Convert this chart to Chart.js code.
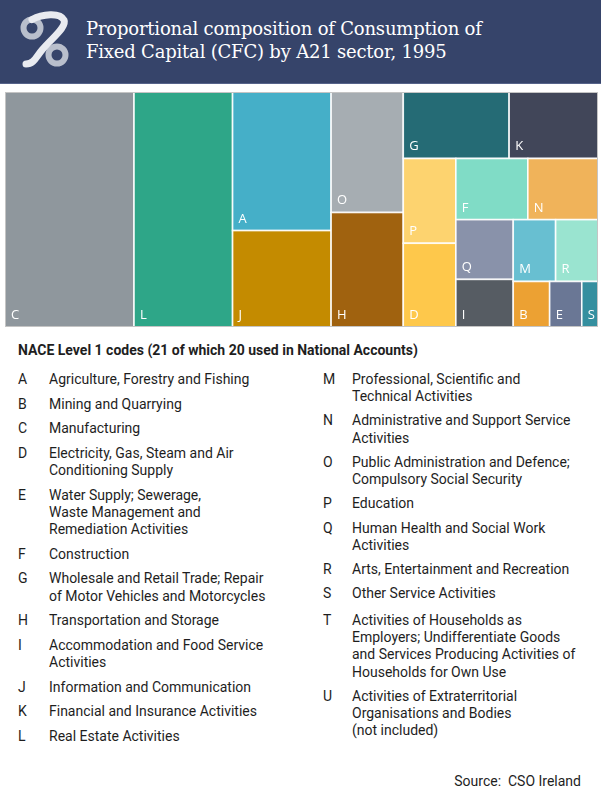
<!DOCTYPE html>
<html>
<head>
<meta charset="utf-8">
<script src="https://cdn.jsdelivr.net/npm/chart.js@4"></script>
<style>
  html, body { margin: 0; padding: 0; background: #fff; }
  body { width: 601px; height: 800px; position: relative; overflow: hidden; font-family: Roboto, "Noto Sans", sans-serif; color: #1e1e1e; }
  #header { position: absolute; left: 0; top: 0; width: 601px; height: 83px; background: #36446a; border-bottom: 1px solid #56638a; }
  #logo { position: absolute; left: 12px; top: 8px; }
  #title { position: absolute; left: 86px; top: 17px; color: #fff; font-family: "DejaVu Serif", serif; font-size: 18px; line-height: 23px; letter-spacing: -0.2px; }
  #wrap { position: absolute; left: 5px; top: 92px; width: 593px; height: 235px; }
  #heading { position: absolute; left: 18px; top: 341px; font-size: 14px; font-weight: 700; line-height: 18px; }
  .col { position: absolute; top: 371px; font-size: 14px; line-height: 17.3px; }
  .col .it { position: relative; margin-bottom: 7.3px; }
  .col .cd { position: absolute; left: 0; top: 0; }
  #col1 { left: 18px; width: 290px; }
  #col1 .tx { margin-left: 31px; }
  #col2 { left: 323px; width: 270px; }
  #col2 .it { margin-bottom: 6.9px; }
  #col2 .tx { margin-left: 29px; }
  #source { position: absolute; right: 20px; top: 772px; font-size: 14px; line-height: 18px; white-space: pre; }
</style>
</head>
<body>
<div id="header">
  <svg id="logo" width="64" height="64" viewBox="0 0 64 64">
    <circle cx="20" cy="20" r="8.5" fill="none" stroke="#b9bfcc" stroke-width="6"/>
    <circle cx="45" cy="47" r="8.5" fill="none" stroke="#b9bfcc" stroke-width="6"/>
    <path d="M20 11.5 C30 6 48 4 52 12 C55 19 40 30 30 42 C24 49 22 56 14 56" fill="none" stroke="#e9ebf0" stroke-width="7" stroke-linecap="round"/>
  </svg>
  <div id="title">Proportional composition of Consumption of<br>Fixed Capital (CFC) by A21 sector, 1995</div>
</div>

<div id="wrap"><canvas id="tree" width="593" height="235"></canvas></div>

<div id="heading">NACE Level 1 codes (21 of which 20 used in National Accounts)</div>
<div class="col" id="col1"></div>
<div class="col" id="col2"></div>
<div id="source">Source:  CSO Ireland</div>

<script>
// ===== DATA =====
const codes  = ["C", "L", "A", "J", "O", "H", "G", "K", "P", "D", "F", "N", "Q", "I", "M", "R", "B", "E", "S"];
const shares = [21.76, 16.62, 9.80, 6.82, 6.24, 5.93, 5.05, 4.24, 3.20, 3.16, 3.16, 3.08, 2.46, 1.96, 1.88, 1.88, 1.19, 1.05, 0.53];
const colours = ["#8f979d", "#2ea688", "#45afc8", "#c48b00", "#a6adb2", "#a0620f", "#256b75", "#414659",
                 "#fdd36f", "#fec84b", "#80dcc6", "#f0b35a", "#8992aa", "#565c63", "#68bfd1", "#9ae4d0",
                 "#eca133", "#6a7795", "#358f9f"];
// rows of the treemap, laid out in turn along the shorter side
const rows = [["C"], ["L"], ["A", "J"], ["O", "H"], ["G", "K"], ["P", "D"], ["F", "N"], ["Q", "I"], ["M", "R"], ["B"], ["E"], ["S"]];

const legendCodes1 = ["A", "B", "C", "D", "E", "F", "G", "H", "I", "J", "K", "L"];
const legendText1 = [
  "Agriculture, Forestry and Fishing",
  "Mining and Quarrying",
  "Manufacturing",
  "Electricity, Gas, Steam and Air<br>Conditioning Supply",
  "Water Supply; Sewerage,<br>Waste Management and<br>Remediation Activities",
  "Construction",
  "Wholesale and Retail Trade; Repair<br>of Motor Vehicles and Motorcycles",
  "Transportation and Storage",
  "Accommodation and Food Service<br>Activities",
  "Information and Communication",
  "Financial and Insurance Activities",
  "Real Estate Activities"
];
const legendCodes2 = ["M", "N", "O", "P", "Q", "R", "S", "T", "U"];
const legendText2 = [
  "Professional, Scientific and<br>Technical Activities",
  "Administrative and Support Service<br>Activities",
  "Public Administration and Defence;<br>Compulsory Social Security",
  "Education",
  "Human Health and Social Work<br>Activities",
  "Arts, Entertainment and Recreation",
  "Other Service Activities",
  "Activities of Households as<br>Employers; Undifferentiate Goods<br>and Services Producing Activities of<br>Households for Own Use",
  "Activities of Extraterritorial<br>Organisations and Bodies<br>(not included)"
];

function fillLegend(id, cds, txt) {
  const el = document.getElementById(id);
  cds.forEach((c, i) => {
    const d = document.createElement("div");
    d.className = "it";
    d.innerHTML = `<span class="cd">${c}</span><div class="tx">${txt[i]}</div>`;
    el.appendChild(d);
  });
  const items = el.querySelectorAll(".it");
  if (id === "col2") items[7].style.marginTop = "9px";
}
fillLegend("col1", legendCodes1, legendText1);
fillLegend("col2", legendCodes2, legendText2);

// ===== LAYOUT (in data units of the x/y scales) =====
function layoutCells(sx, sy) {
  const val = c => shares[codes.indexOf(c)];
  let rect = { x: 0, y: 0, w: 100, h: 100 };
  let remaining = shares.reduce((a, b) => a + b, 0);
  const cells = [];
  rows.forEach(row => {
    const gsum = row.reduce((a, c) => a + val(c), 0);
    const frac = gsum / remaining;
    if (rect.w * sx >= rect.h * sy) {
      const sw = rect.w * frac;
      let y = rect.y;
      row.forEach(c => {
        const h = rect.h * val(c) / gsum;
        cells.push({ code: c, x: rect.x, y, w: sw, h });
        y += h;
      });
      rect.x += sw; rect.w -= sw;
    } else {
      const sh = rect.h * frac;
      let x = rect.x;
      row.forEach(c => {
        const w = rect.w * val(c) / gsum;
        cells.push({ code: c, x, y: rect.y, w, h: sh });
        x += w;
      });
      rect.y += sh; rect.h -= sh;
    }
    remaining -= gsum;
  });
  return cells;
}

const treemapPlugin = {
  id: "treemap",
  afterDraw(chart) {
    const { ctx, chartArea: ca, scales: { x, y } } = chart;
    const sx = ca.width / 100, sy = ca.height / 100;
    const cells = layoutCells(sx, sy);
    ctx.save();
    ctx.fillStyle = "#cfcfcf";
    ctx.fillRect(ca.left, ca.top, ca.width, ca.height);
    cells.forEach(cell => {
      const x0 = x.getPixelForValue(cell.x), x1 = x.getPixelForValue(cell.x + cell.w);
      const y0 = y.getPixelForValue(cell.y), y1 = y.getPixelForValue(cell.y + cell.h);
      ctx.fillStyle = colours[codes.indexOf(cell.code)];
      ctx.fillRect(x0, y0, x1 - x0, y1 - y0);
      ctx.strokeStyle = "rgba(255,255,255,0.9)";
      ctx.lineWidth = 1.6;
      ctx.strokeRect(x0, y0, x1 - x0, y1 - y0);
      ctx.fillStyle = "#fff";
      ctx.font = "13px 'Open Sans', sans-serif";
      ctx.textBaseline = "alphabetic";
      ctx.fillText(cell.code, x0 + 6, y1 - 8);
    });
    ctx.strokeStyle = "#c4c4c4";
    ctx.lineWidth = 1;
    ctx.strokeRect(ca.left + 0.5, ca.top + 0.5, ca.width - 1, ca.height - 1);
    ctx.restore();
  }
};

new Chart(document.getElementById("tree"), {
  type: "scatter",
  data: { datasets: [{ data: [] }] },
  options: {
    responsive: false,
    animation: false,
    layout: { padding: 0 },
    plugins: { legend: { display: false }, tooltip: { enabled: false } },
    scales: {
      x: { type: "linear", min: 0, max: 100, display: false },
      y: { type: "linear", min: 0, max: 100, reverse: true, display: false }
    }
  },
  plugins: [treemapPlugin]
});
</script>
</body>
</html>
